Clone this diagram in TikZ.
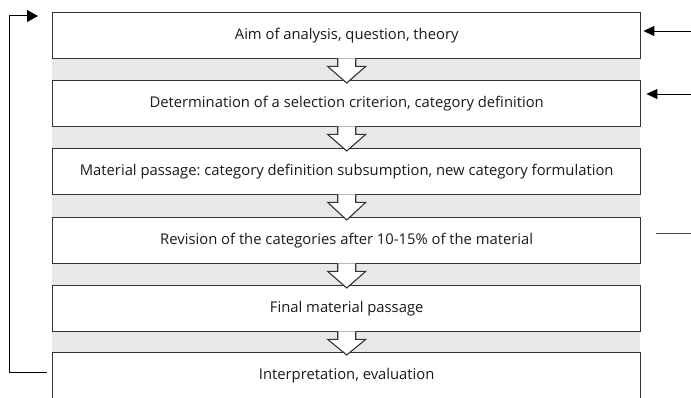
\documentclass[tikz,border=0pt]{standalone}
\usepackage{fontspec}
\setmainfont{Open Sans}
\frenchspacing
\usetikzlibrary{arrows.meta,calc}
\definecolor{boxline}{HTML}{333333}
\definecolor{bandgray}{HTML}{E8E8E8}
\definecolor{txt}{HTML}{1A1A1A}
\definecolor{sideline}{HTML}{444444}
\begin{document}
\begin{tikzpicture}[x=1pt,y=-1pt,
  stage/.style={draw=boxline,line width=1.4pt,fill=white,minimum width=588pt,
    minimum height=46pt,inner sep=0pt,anchor=north west,text=txt,
    font=\fontsize{14.8}{17}\selectfont},
  chev/.style={draw=boxline,line width=1.1pt,fill=white,line join=miter},
  fb/.style={line width=1pt,draw=black,-{Triangle[length=11pt,width=12pt]}},
  inarrow/.style={line width=0.9pt,draw=black,-{Triangle[length=11pt,width=10pt]}},
  plainline/.style={line width=0.9pt,draw=sideline}]
\useasboundingbox (0,0) rectangle (691,398);
\fill[bandgray] (52,58) rectangle (640,352);
\node[stage] (b1) at (52,12) {Aim of analysis, question, theory};
\node[stage] (b2) at (52,80) {Determination of a selection criterion, category definition};
\node[stage] (b3) at (52,148) {Material passage: category definition subsumption, new category formulation};
\node[stage] (b4) at (52,217) {Revision of the categories after 10-15\% of the material};
\node[stage] (b5) at (52,285) {Final material passage};
\node[stage] (b6) at (52,352) {Interpretation, evaluation};
\foreach \a/\b in {b1/b2,b2/b3,b3/b4,b4/b5,b5/b6}{
  \filldraw[chev] ($(\a.south)+(-9,-1)$) -- ($(\a.south)+(-9,7)$) -- ($(\a.south)+(-19,7)$)
    -- ($(\b.north)+(0,3)$) -- ($(\a.south)+(19,7)$) -- ($(\a.south)+(9,7)$) -- ($(\a.south)+(9,-1)$);
}
\coordinate (fbstart) at (47,372);
\coordinate (fbcorner) at (9,16);
\coordinate (fbend) at (38,16);
\draw[fb] (fbstart) -| (fbcorner) -- (fbend);
\coordinate (in1) at (691,31);
\coordinate (in2) at (691,94);
\draw[inarrow] (in1) -- ($(in1 -| b1.east)+(2,0)$);
\draw[inarrow] (in2) -- ($(in2 -| b2.east)+(5,0)$);
\coordinate (in4a) at (656,233);
\coordinate (in4b) at (691,233);
\draw[plainline] (in4a) -- (in4b);
\end{tikzpicture}
\end{document}
